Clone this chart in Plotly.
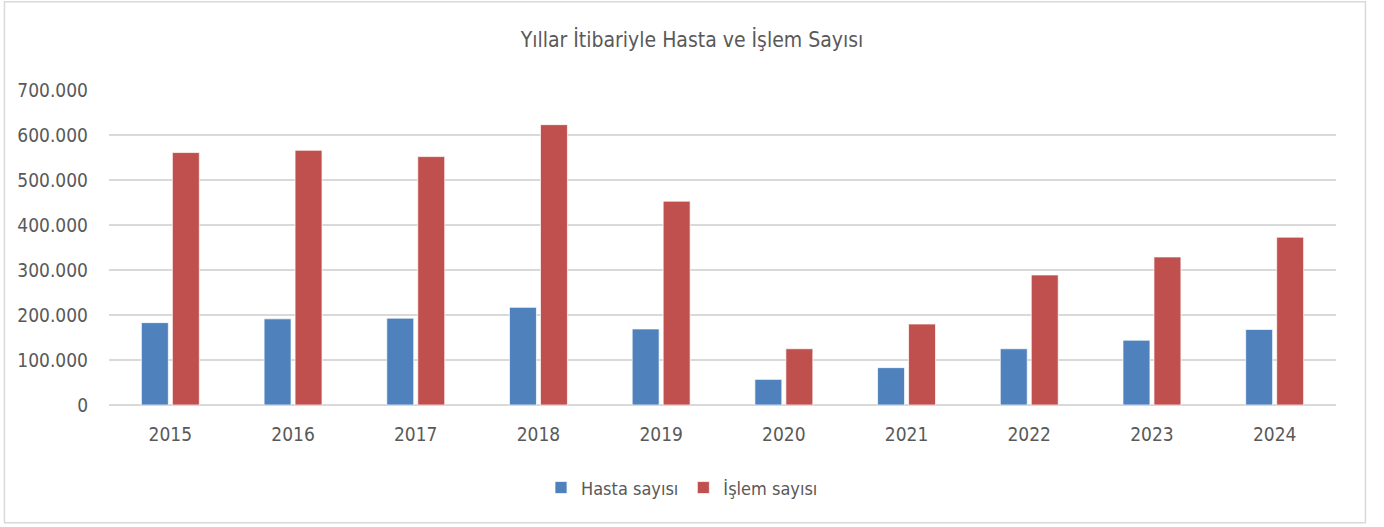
import plotly.graph_objects as go

years = ["2015", "2016", "2017", "2018", "2019", "2020", "2021", "2022", "2023", "2024"]
hasta = [183000, 191500, 193000, 217000, 169000, 57000, 83000, 125000, 144000, 168000]
islem = [561000, 566000, 552000, 623000, 453000, 125000, 180000, 289000, 329000, 373000]
series_names = ["Hasta sayısı", "İşlem sayısı"]
title_text = "Yıllar İtibariyle Hasta ve İşlem Sayısı"

FONT = "Liberation Sans Narrow, DejaVu Sans Condensed, Arial Narrow, sans-serif"
TXT = "#595959"

fig = go.Figure()
fig.add_trace(go.Bar(x=years, y=hasta, name=series_names[0],
                     marker=dict(color="#4F81BD", line=dict(color="rgba(255,255,255,0.7)", width=1))))
fig.add_trace(go.Bar(x=years, y=islem, name=series_names[1],
                     marker=dict(color="#C0504D", line=dict(color="rgba(255,255,255,0.7)", width=1))))

fig.update_layout(
    width=1384, height=527,
    margin=dict(l=109, r=48, t=90, b=122),
    paper_bgcolor="white", plot_bgcolor="white",
    separators=",.",
    font=dict(family=FONT, color=TXT, size=18),
    title=dict(text=title_text, x=0.5, xanchor="center", y=0.925, yanchor="middle",
               font=dict(family=FONT, size=21, color=TXT)),
    barmode="group", bargap=0.495, bargroupgap=0.13,
    showlegend=True,
    legend=dict(orientation="h", x=0.467, xanchor="center", y=-0.263, yanchor="middle",
                font=dict(family=FONT, size=18, color=TXT), itemwidth=30, traceorder="normal"),
    hovermode=False,
)
fig.update_yaxes(range=[0, 700000], dtick=100000, tickformat=",", showgrid=True,
                 gridcolor="#D9D9D9", gridwidth=1.5, zeroline=True, zerolinecolor="#D9D9D9",
                 zerolinewidth=1.5, showline=False, ticks="", ticklabelstandoff=20,
                 tickfont=dict(family=FONT, size=19, color=TXT))
fig.update_xaxes(showgrid=False, showline=False, ticks="", ticklabelstandoff=16,
                 tickfont=dict(family=FONT, size=19, color=TXT))

fig.add_shape(type="rect", xref="paper", yref="paper",
              x0=-0.0852, x1=1.024, y0=-0.374, y1=1.2805,
              line=dict(color="#D9D9D9", width=1.5), fillcolor="rgba(0,0,0,0)", layer="below")

fig.write_html("out.html", config={"displayModeBar": False},
               post_script="document.body.style.margin='0';")
